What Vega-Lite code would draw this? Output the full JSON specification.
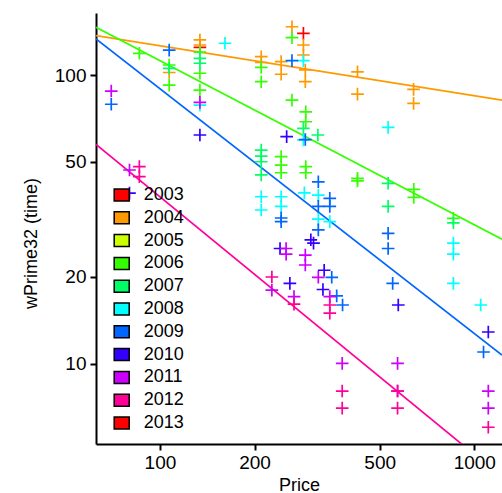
{
  "$schema": "https://vega.github.io/schema/vega-lite/v6.json",
  "width": 406,
  "height": 431,
  "autosize": {"type": "none"},
  "padding": {"left": 96, "top": 13, "right": 0, "bottom": 49},
  "background": "white",
  "config": {
    "view": {"stroke": null},
    "font": "Liberation Sans",
    "axis": {"domainColor": "black", "domainWidth": 2, "tickColor": "black", "tickWidth": 2, "tickSize": 6, "grid": false, "labelFont": "Liberation Sans", "labelFontSize": 19, "labelColor": "black", "titleFont": "Liberation Sans", "titleFontSize": 18, "titleFontWeight": "normal", "titleColor": "black"}
  },
  "datasets": {
    "pts": [
      {"price": 286, "time": 139.4, "year": "2003"}, {"price": 134, "time": 124.7, "year": "2003"},
      {"price": 107, "time": 102, "year": "2004"}, {"price": 134, "time": 132.2, "year": "2004"}, {"price": 134, "time": 127, "year": "2004"}, {"price": 210, "time": 115.7, "year": "2004"}, {"price": 210, "time": 110.5, "year": "2004"}, {"price": 243, "time": 111.2, "year": "2004"}, {"price": 243, "time": 100.6, "year": "2004"}, {"price": 263, "time": 146.9, "year": "2004"}, {"price": 286, "time": 127, "year": "2004"}, {"price": 286, "time": 117.3, "year": "2004"}, {"price": 290, "time": 104.1, "year": "2004"}, {"price": 290, "time": 94.8, "year": "2004"}, {"price": 425, "time": 102.6, "year": "2004"}, {"price": 425, "time": 85.9, "year": "2004"}, {"price": 641, "time": 89.2, "year": "2004"}, {"price": 641, "time": 79.8, "year": "2004"},
      {"price": 86, "time": 118.9, "year": "2006"}, {"price": 107, "time": 108.3, "year": "2006"}, {"price": 107, "time": 92.3, "year": "2006"}, {"price": 134, "time": 120, "year": "2006"}, {"price": 134, "time": 101.4, "year": "2006"}, {"price": 134, "time": 88.7, "year": "2006"}, {"price": 210, "time": 106.3, "year": "2006"}, {"price": 210, "time": 94.8, "year": "2006"}, {"price": 263, "time": 134.6, "year": "2006"}, {"price": 263, "time": 81.9, "year": "2006"}, {"price": 291, "time": 74.6, "year": "2006"}, {"price": 291, "time": 68.9, "year": "2006"}, {"price": 291, "time": 48.2, "year": "2006"}, {"price": 291, "time": 45.9, "year": "2006"}, {"price": 243, "time": 52.2, "year": "2006"}, {"price": 243, "time": 48.8, "year": "2006"}, {"price": 243, "time": 45.9, "year": "2006"}, {"price": 425, "time": 43.9, "year": "2006"}, {"price": 425, "time": 43.0, "year": "2006"}, {"price": 642, "time": 40.2, "year": "2006"}, {"price": 642, "time": 37.7, "year": "2006"}, {"price": 858, "time": 31.9, "year": "2006"},
      {"price": 107, "time": 105.5, "year": "2007"}, {"price": 134, "time": 114.2, "year": "2007"}, {"price": 134, "time": 109.8, "year": "2007"}, {"price": 210, "time": 55, "year": "2007"}, {"price": 210, "time": 52.4, "year": "2007"}, {"price": 210, "time": 50.1, "year": "2007"}, {"price": 210, "time": 45.1, "year": "2007"}, {"price": 286, "time": 65.4, "year": "2007"}, {"price": 318, "time": 62, "year": "2007"}, {"price": 532, "time": 42.2, "year": "2007"}, {"price": 532, "time": 35.1, "year": "2007"}, {"price": 858, "time": 30.8, "year": "2007"},
      {"price": 161, "time": 128.8, "year": "2008"}, {"price": 134, "time": 78.7, "year": "2008"}, {"price": 286, "time": 112.2, "year": "2008"}, {"price": 286, "time": 59.6, "year": "2008"}, {"price": 288, "time": 39.1, "year": "2008"}, {"price": 319, "time": 38.4, "year": "2008"}, {"price": 319, "time": 31.7, "year": "2008"}, {"price": 347, "time": 31.1, "year": "2008"}, {"price": 210, "time": 37.9, "year": "2008"}, {"price": 210, "time": 34.1, "year": "2008"}, {"price": 243, "time": 37.9, "year": "2008"}, {"price": 243, "time": 35.1, "year": "2008"}, {"price": 532, "time": 65.9, "year": "2008"}, {"price": 858, "time": 26.2, "year": "2008"}, {"price": 858, "time": 24.0, "year": "2008"}, {"price": 858, "time": 19.0, "year": "2008"}, {"price": 1048, "time": 16.0, "year": "2008"},
      {"price": 107, "time": 122, "year": "2009"}, {"price": 70, "time": 79.2, "year": "2009"}, {"price": 263, "time": 112.2, "year": "2009"}, {"price": 290, "time": 59.8, "year": "2009"}, {"price": 319, "time": 42.7, "year": "2009"}, {"price": 347, "time": 37.4, "year": "2009"}, {"price": 347, "time": 35.1, "year": "2009"}, {"price": 319, "time": 35.1, "year": "2009"}, {"price": 319, "time": 29.1, "year": "2009"}, {"price": 243, "time": 32.0, "year": "2009"}, {"price": 243, "time": 31.1, "year": "2009"}, {"price": 532, "time": 28.3, "year": "2009"}, {"price": 532, "time": 25.1, "year": "2009"}, {"price": 352, "time": 19.95, "year": "2009"}, {"price": 365, "time": 17.2, "year": "2009"}, {"price": 381, "time": 16.0, "year": "2009"}, {"price": 550, "time": 19.0, "year": "2009"}, {"price": 1070, "time": 11.0, "year": "2009"},
      {"price": 80, "time": 39.0, "year": "2010"}, {"price": 134, "time": 62, "year": "2010"}, {"price": 253, "time": 61.2, "year": "2010"}, {"price": 302, "time": 26.9, "year": "2010"}, {"price": 308, "time": 26.2, "year": "2010"}, {"price": 241, "time": 25.1, "year": "2010"}, {"price": 333, "time": 21.1, "year": "2010"}, {"price": 259, "time": 19.0, "year": "2010"}, {"price": 330, "time": 18.1, "year": "2010"}, {"price": 573, "time": 16.0, "year": "2010"}, {"price": 1108, "time": 12.9, "year": "2010"},
      {"price": 70, "time": 88, "year": "2011"}, {"price": 134, "time": 80.4, "year": "2011"}, {"price": 80, "time": 46.9, "year": "2011"}, {"price": 252, "time": 25.1, "year": "2011"}, {"price": 252, "time": 24.0, "year": "2011"}, {"price": 290, "time": 23.8, "year": "2011"}, {"price": 290, "time": 22.0, "year": "2011"}, {"price": 227, "time": 18.0, "year": "2011"}, {"price": 267, "time": 17.1, "year": "2011"}, {"price": 319, "time": 19.95, "year": "2011"}, {"price": 347, "time": 17.1, "year": "2011"}, {"price": 380, "time": 10.05, "year": "2011"}, {"price": 570, "time": 10.05, "year": "2011"}, {"price": 570, "time": 8.06, "year": "2011"}, {"price": 1108, "time": 8.06, "year": "2011"}, {"price": 1108, "time": 7.03, "year": "2011"},
      {"price": 86, "time": 48.2, "year": "2012"}, {"price": 86, "time": 44.5, "year": "2012"}, {"price": 227, "time": 20.0, "year": "2012"}, {"price": 267, "time": 16.1, "year": "2012"}, {"price": 347, "time": 16.0, "year": "2012"}, {"price": 347, "time": 15.0, "year": "2012"}, {"price": 380, "time": 8.06, "year": "2012"}, {"price": 380, "time": 7.03, "year": "2012"}, {"price": 570, "time": 8.06, "year": "2012"}, {"price": 570, "time": 7.03, "year": "2012"}, {"price": 1108, "time": 6.04, "year": "2012"}
    ],
    "fits": [
      {"price": 62.6, "time": 136.8, "year": "2004"}, {"price": 1225, "time": 81.9, "year": "2004"},
      {"price": 62.6, "time": 146.2, "year": "2006"}, {"price": 1225, "time": 27.0, "year": "2006"},
      {"price": 62.6, "time": 133.2, "year": "2009"}, {"price": 1225, "time": 10.74, "year": "2009"},
      {"price": 62.6, "time": 57.5, "year": "2012"}, {"price": 1225, "time": 4.06, "year": "2012"}
    ]
  },
  "resolve": {"legend": {"fill": "independent", "stroke": "independent"}},
  "layer": [
    {
      "data": {"name": "fits"},
      "mark": {"type": "line", "clip": true, "strokeWidth": 1.7},
      "encoding": {
        "x": {"field": "price", "type": "quantitative"},
        "y": {"field": "time", "type": "quantitative"},
        "stroke": {"field": "year", "type": "nominal", "legend": null},
        "detail": {"field": "year"}
      }
    },
    {
      "data": {"name": "pts"},
      "mark": {"type": "point", "shape": "M-1,0L1,0M0,-1L0,1", "filled": false, "size": 160, "strokeWidth": 1.7, "opacity": 1, "clip": true},
      "encoding": {
        "x": {"field": "price", "type": "quantitative", "title": "Price",
              "scale": {"type": "log", "domain": [62.6, 1225], "nice": false},
              "axis": {"values": [100, 200, 500, 1000], "format": "d", "labelPadding": 3, "titleBaseline": "alphabetic", "titleY": 46, "titleX": 203}},
        "y": {"field": "time", "type": "quantitative", "title": "wPrime32 (time)",
              "scale": {"type": "log", "domain": [5.285, 163.9], "nice": false},
              "axis": {"values": [10, 20, 50, 100], "format": "d", "labelPadding": 4, "titleBaseline": "alphabetic", "titleX": -60, "titleY": 230, "titleAngle": -90}},
        "stroke": {"field": "year", "type": "nominal", "legend": null,
                  "scale": {"domain": ["2003","2004","2005","2006","2007","2008","2009","2010","2011","2012","2013"],
                            "range": ["#FF0000","#FF9900","#CCFF00","#33FF00","#00FF66","#00FFFF","#0066FF","#3300FF","#CC00FF","#FF0099","#FF0000"]}}
      }
    },
    {
      "data": {"values": []},
      "mark": {"type": "point", "shape": "M-1,-0.8H1V0.8H-1Z", "filled": true, "stroke": "black", "strokeWidth": 1.5, "opacity": 1, "size": 225},
      "encoding": {
        "x": {"field": "price", "type": "quantitative"},
        "y": {"field": "time", "type": "quantitative"},
        "fill": {"field": "year", "type": "nominal",
                  "scale": {"domain": ["2003","2004","2005","2006","2007","2008","2009","2010","2011","2012","2013"],
                            "range": ["#FF0000","#FF9900","#CCFF00","#33FF00","#00FF66","#00FFFF","#0066FF","#3300FF","#CC00FF","#FF0099","#FF0000"]},
                  "legend": {"orient": "none", "legendX": 16.7, "legendY": 173, "title": null, "padding": 0,
                             "labelFontSize": 18, "labelFont": "Liberation Sans", "labelColor": "black", "labelOffset": 13,
                             "symbolType": "M-1,-0.8H1V0.8H-1Z", "symbolSize": 225, "rowPadding": 4.8,
                             "symbolStrokeColor": "black", "symbolStrokeWidth": 1.5, "symbolOpacity": 1}}
      }
    }
  ]
}
